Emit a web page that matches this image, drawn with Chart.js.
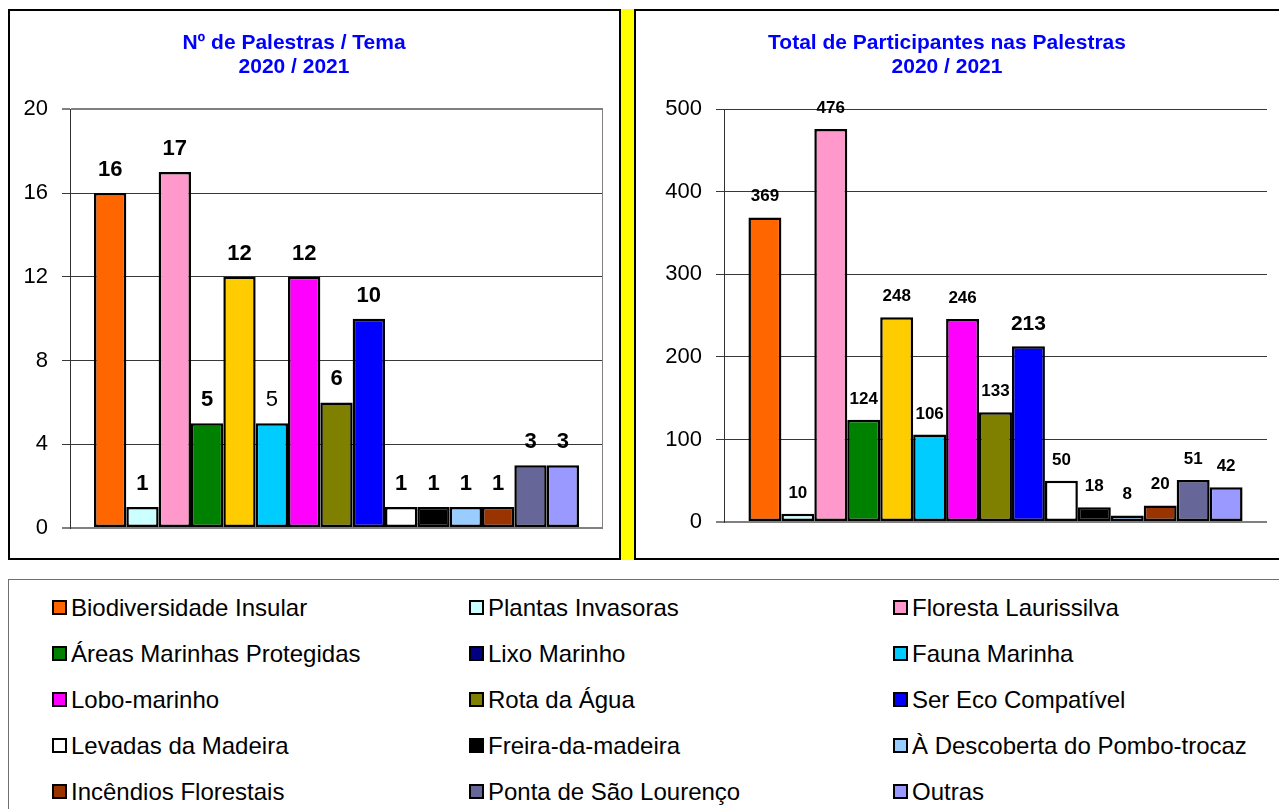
<!DOCTYPE html>
<html>
<head>
<meta charset="utf-8">
<script src="https://cdn.jsdelivr.net/npm/chart.js@4/dist/chart.umd.min.js"></script>
<style>
html,body{margin:0;padding:0;background:#fff;width:1279px;height:809px;overflow:hidden;font-family:"Liberation Sans",Arial,sans-serif;}
.abs{position:absolute;box-sizing:border-box;}
#boxL{left:8px;top:9px;width:613px;height:551px;border:2px solid #000;}
#yellow{left:621px;top:9px;width:13px;height:551px;background:#ffff00;}
#boxR{left:634px;top:9px;width:700px;height:551px;border:2px solid #000;}
#legendBox{left:8px;top:579px;width:1300px;height:300px;border:1px solid #707070;}
#cL{position:absolute;left:-15px;top:11px;}
#cR{position:absolute;left:627px;top:11px;}
.item{position:absolute;height:28px;display:flex;align-items:center;font-size:24px;color:#000;white-space:nowrap;}
.sw{width:15px;height:15px;border:2px solid #000;box-sizing:border-box;margin-right:4px;flex:none;}
</style>
</head>
<body>
<div class="abs" id="boxL"></div>
<div class="abs" id="yellow"></div>
<div class="abs" id="boxR"></div>
<div class="abs" id="legendBox"></div>
<canvas id="cL" width="618" height="547"></canvas>
<canvas id="cR" width="640" height="547"></canvas>
<div id="legend"></div>
<script>
// ---- data ----
const categories = ['Biodiversidade Insular', 'Plantas Invasoras', 'Floresta Laurissilva',
  'Áreas Marinhas Protegidas', 'Lixo Marinho', 'Fauna Marinha',
  'Lobo-marinho', 'Rota da Água', 'Ser Eco Compatível',
  'Levadas da Madeira', 'Freira-da-madeira', 'À Descoberta do Pombo-trocaz',
  'Incêndios Florestais', 'Ponta de São Lourenço', 'Outras'];
const palestras = [16, 1, 17, 5, 12, 5, 12, 6, 10, 1, 1, 1, 1, 3, 3];
const participantes = [369, 10, 476, 124, 248, 106, 246, 133, 213, 50, 18, 8, 20, 51, 42];
const titleLeft = ['Nº de Palestras / Tema', '2020 / 2021'];
const titleRight = ['Total de Participantes nas Palestras', '2020 / 2021'];

// ---- styles ----
const barColors = ['#FF6600', '#CCFFFF', '#FF99CC', '#008000', '#FFCC00', '#00CCFF', '#FF00FF',
  '#808000', '#0000FF', '#FFFFFF', '#000000', '#99CCFF', '#993300', '#666699', '#9999FF'];
const legendColors = ['#FF6600', '#CCFFFF', '#FF99CC', '#008000', '#000080', '#00CCFF', '#FF00FF',
  '#808000', '#0000FF', '#FFFFFF', '#000000', '#99CCFF', '#993300', '#666699', '#9999FF'];

Chart.defaults.font.family = '"Liberation Sans", Arial, sans-serif';

function labelPlugin(offset, size, weightFor, sizeFor) {
  return {
    id: 'valueLabels',
    afterDatasetsDraw(chart) {
      const ctx = chart.ctx;
      chart.data.datasets.forEach((ds, i) => {
        const meta = chart.getDatasetMeta(i);
        meta.data.forEach((bar, j) => {
          ctx.save();
          const w = weightFor(i), s = sizeFor(i, size);
          ctx.font = w + ' ' + s + 'px "Liberation Sans", Arial, sans-serif';
          ctx.fillStyle = '#000';
          ctx.textAlign = 'center';
          ctx.textBaseline = 'alphabetic';
          ctx.fillText(String(ds.data[j]), bar.x, bar.y - offset);
          ctx.restore();
        });
      });
    }
  };
}
function framePlugin(color) {
  return {
    id: 'frameRight',
    beforeDatasetsDraw(chart) {
      if (!color) return;
      const {ctx, chartArea: a} = chart;
      ctx.save();
      ctx.strokeStyle = color; ctx.lineWidth = 2;
      ctx.beginPath(); ctx.moveTo(a.right, a.top); ctx.lineTo(a.right, a.bottom); ctx.stroke();
      ctx.restore();
    }
  };
}

function makeChart(id, values, title, yMax, step, axisWidth, padBottom, grayVals, rightColor, lbl) {
  const datasets = categories.map((name, i) => ({
    label: name,
    data: [values[i]],
    backgroundColor: barColors[i],
    borderColor: '#000',
    borderWidth: 2.5,
    borderSkipped: false,
    categoryPercentage: 0.91,
    barPercentage: 1
  }));
  return new Chart(document.getElementById(id), {
    type: 'bar',
    data: { labels: [''], datasets },
    options: {
      responsive: false,
      animation: false,
      layout: { padding: { left: 0, right: 0, top: 0, bottom: padBottom } },
      scales: {
        x: { display: false },
        y: {
          min: 0, max: yMax,
          ticks: { stepSize: step, padding: 14, color: '#000', font: { size: 22 } },
          grid: {
            color: c => grayVals.includes(c.tick && c.tick.value) ? '#808080' : '#383838',
            lineWidth: c => grayVals.includes(c.tick && c.tick.value) ? 2 : 1,
            tickLength: 8, drawTicks: true
          },
          border: { display: true, color: '#303030', width: 1 },
          afterFit(s) { s.width = axisWidth; }
        }
      },
      plugins: {
        legend: { display: false },
        tooltip: { enabled: false },
        title: {
          display: true, text: title, color: '#0000FF',
          font: { size: 21, weight: 'bold', lineHeight: 1.15 },
          padding: { top: 20, bottom: 30 }
        }
      }
    },
    plugins: [framePlugin(rightColor), lbl]
  });
}

makeChart('cL', palestras, titleLeft, 20, 4, 85, 30, [0, 20], '#808080',
  labelPlugin(17, 22, i => (i === 5 ? 'normal' : 'bold'), (i, s) => s));
makeChart('cR', participantes, titleRight, 500, 100, 97, 36, [0], null,
  labelPlugin(16, 17, i => 'bold', (i, s) => (i === 8 ? 21 : s)));

// ---- legend (HTML, built from the same arrays) ----
const colX = [52, 469, 893];
const rowY = [607.5, 653.5, 699.5, 745.5, 791.5];
const leg = document.getElementById('legend');
categories.forEach((name, i) => {
  const d = document.createElement('div');
  d.className = 'item';
  d.style.left = colX[i % 3] + 'px';
  d.style.top = (rowY[Math.floor(i / 3)] - 14) + 'px';
  const sw = document.createElement('span');
  sw.className = 'sw';
  sw.style.background = legendColors[i];
  const t = document.createElement('span');
  t.textContent = name;
  d.appendChild(sw); d.appendChild(t);
  leg.appendChild(d);
});
</script>
</body>
</html>
